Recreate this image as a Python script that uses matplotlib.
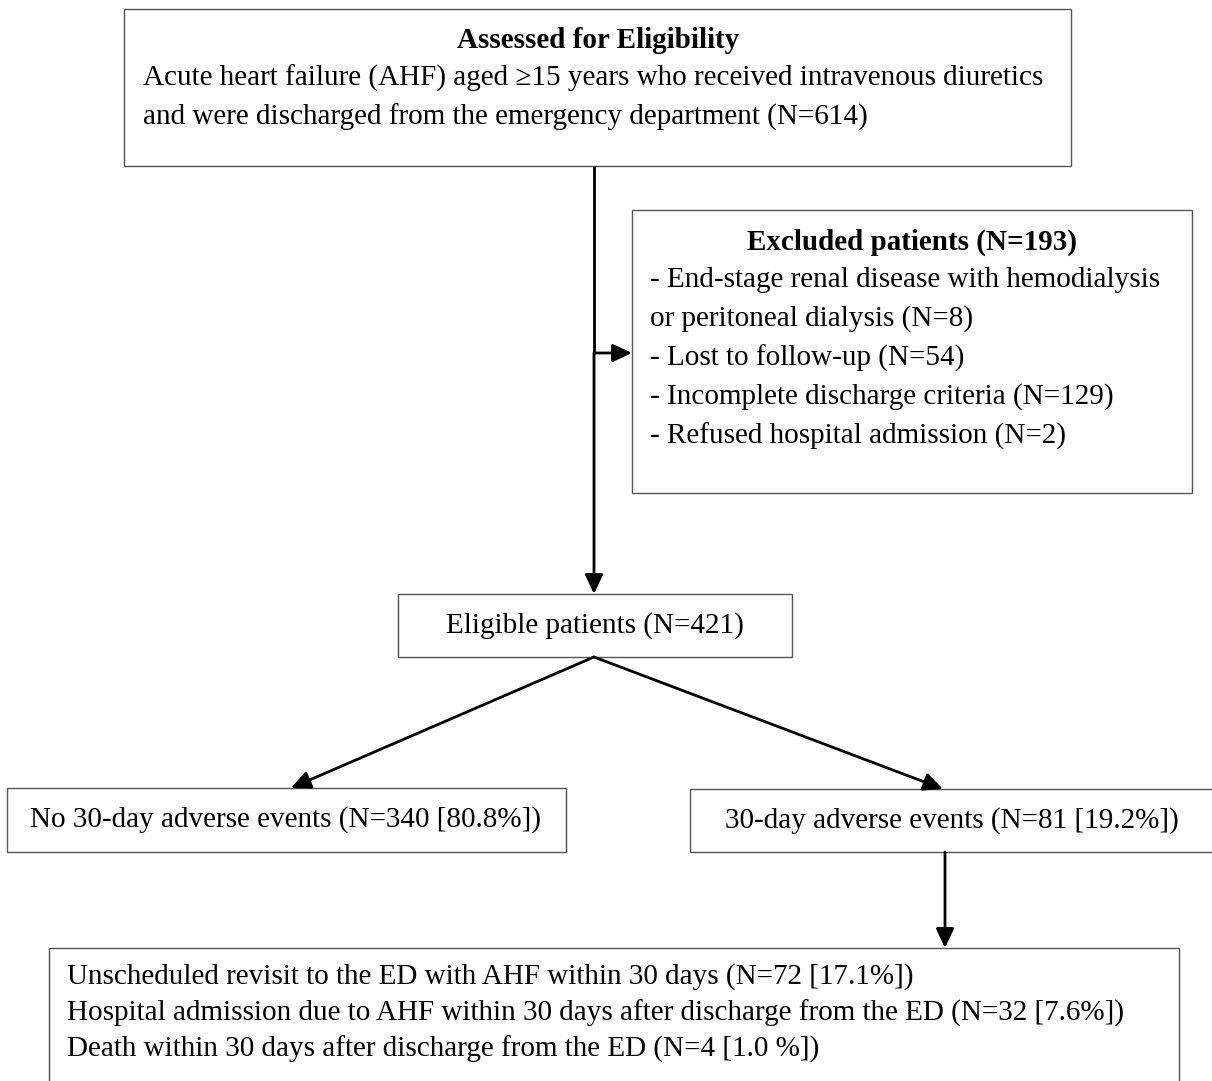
import matplotlib.pyplot as plt
from matplotlib.patches import Rectangle

plt.rcParams['font.family'] = ['Liberation Serif', 'DejaVu Serif']

# texts of the flowchart
top_title = "Assessed for Eligibility"
top_lines = ["Acute heart failure (AHF) aged \u226515 years who received intravenous diuretics",
             "and were discharged from the emergency department (N=614)"]
excl_title = "Excluded patients (N=193)"
excl_lines = ["- End-stage renal disease with hemodialysis",
              "or peritoneal dialysis (N=8)",
              "- Lost to follow-up (N=54)",
              "- Incomplete discharge criteria (N=129)",
              "- Refused hospital admission (N=2)"]
eligible = "Eligible patients (N=421)"
no_events = "No 30-day adverse events (N=340 [80.8%])"
events = "30-day adverse events (N=81 [19.2%])"
outcome_lines = ["Unscheduled revisit to the ED with AHF within 30 days (N=72 [17.1%])",
                 "Hospital admission due to AHF within 30 days after discharge from the ED (N=32 [7.6%])",
                 "Death within 30 days after discharge from the ED (N=4 [1.0 %])"]

W, H = 1212, 1081
fig = plt.figure(figsize=(W / 100, H / 100), dpi=100)
ax = fig.add_axes([0, 0, 1, 1])
ax.set_xlim(0, W)
ax.set_ylim(H, 0)
ax.axis('off')

fs = 21
ec = '#555555'
dy = 3  # text sits a bit low in the boxes

def box(x0, y0, x1, y1):
    ax.add_patch(Rectangle((x0, y0), x1 - x0, y1 - y0, fill=False, ec=ec, lw=1.0))

def txt(x, y, s, ha='left', **kw):
    ax.text(x, y + dy, s, fontsize=fs, ha=ha, va='center', **kw)

def arrow(x0, y0, x1, y1):
    ax.annotate('', xy=(x1, y1), xytext=(x0, y0),
                arrowprops=dict(arrowstyle='-|>,head_length=0.9,head_width=0.42',
                                color='black', lw=2.0, shrinkA=0, shrinkB=0,
                                mutation_scale=13))

# top box
box(124, 9, 1071, 166)
txt(598, 37, top_title, ha='center', fontweight='bold')
for i, t in enumerate(top_lines):
    txt(143, 75 + i * 39, t)

# excluded box
box(632, 210, 1192, 493)
txt(912, 239, excl_title, ha='center', fontweight='bold')
for i, t in enumerate(excl_lines):
    txt(650, 277 + i * 39, t)

# eligible box
box(398, 594, 792, 657)
txt(595, 623, eligible, ha='center')

# outcome boxes
box(7, 788, 566, 852)
txt(286, 817, no_events, ha='center')
box(690, 789, 1225, 852)
txt(952, 818, events, ha='center')

# bottom box (runs past the lower edge)
box(49, 948, 1179, 1100)
for i, t in enumerate(outcome_lines):
    txt(67, 974 + i * 36, t)

# connectors
ax.plot([594, 594], [166, 353], color='black', lw=2.0, solid_capstyle='butt')
arrow(594, 353, 594, 594)
arrow(594, 353, 632, 353)
arrow(594, 657, 291, 788)
arrow(594, 657, 943, 789)
arrow(945, 852, 945, 948)

fig.savefig('out.png', dpi=100)
